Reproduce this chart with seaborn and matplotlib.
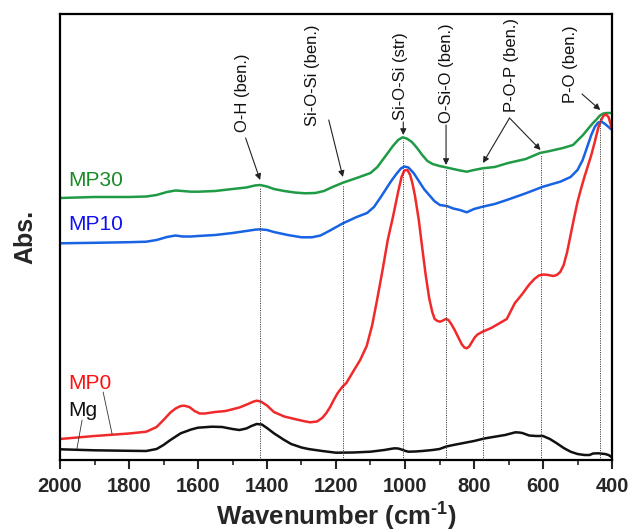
import numpy as np
import pandas as pd
import matplotlib
matplotlib.use("Agg")
import matplotlib.pyplot as plt
from matplotlib.ticker import MultipleLocator
import seaborn as sns

# FTIR spectra (wavenumber in cm-1, absorbance in arbitrary offset units)
w_mp30 = [2000, 1900, 1800, 1750, 1720, 1690, 1665, 1645, 1620, 1600, 1550, 1500, 1460, 1435,
          1420, 1400, 1380, 1350, 1320, 1290, 1260, 1235, 1210, 1180, 1140, 1100, 1080, 1065,
          1050, 1035, 1020, 1007, 995, 980, 965, 950, 935, 920, 900, 882, 860, 840, 821, 800,
          775, 740, 701, 650, 609, 580, 542, 513, 484, 465, 455, 445, 435, 425, 415, 400]
a_mp30 = [262, 263, 263, 263.5, 265, 268, 269.5, 269, 268.3, 268.3, 269, 271, 272.5, 274.5,
          275, 273.5, 271, 269, 267.5, 266.7, 267, 269, 273, 277.3, 282, 287, 293, 300,
          307, 314, 320, 322.7, 321.5, 318, 312, 305, 299, 296, 294, 292.7, 291, 289.5, 288.3, 290,
          291.7, 293, 297, 301, 307, 309, 312, 315, 325, 333, 337, 340.5, 344.5, 346.5, 347, 347]

w_mp10 = [2000, 1900, 1800, 1750, 1720, 1690, 1665, 1645, 1620, 1600, 1550, 1500, 1460, 1435,
          1420, 1400, 1380, 1340, 1300, 1270, 1245, 1220, 1180, 1140, 1110, 1090, 1072, 1055,
          1040, 1025, 1012, 1002, 990, 975, 960, 945, 930, 915, 899, 879, 860, 841, 821, 800,
          775, 740, 705, 650, 600, 550, 520, 500, 485, 470, 460, 450, 440, 430, 420, 410, 400]
a_mp10 = [216.7, 217.2, 217.8, 218.3, 220, 223, 224.5, 223.5, 223.5, 224, 225, 227, 229, 230.3,
          230.7, 230, 228, 225, 222.7, 222.7, 224.5, 229, 236.7, 243, 247, 253, 262, 271,
          279, 286, 291.5, 293.5, 292.5, 287, 279, 271, 265, 259, 255, 254, 251.5, 250, 247.7, 251,
          253.3, 256, 260, 266.7, 273.3, 278.3, 283, 290, 300, 315, 325, 333, 337.5, 338.3,
          336, 333, 330]

w_mp0 = [2000, 1900, 1800, 1750, 1720, 1700, 1680, 1665, 1650, 1640, 1625, 1610, 1595, 1580,
         1550, 1520, 1480, 1455, 1440, 1430, 1418, 1400, 1380, 1350, 1320, 1295, 1275, 1255,
         1240, 1228, 1217, 1205, 1195, 1182, 1170, 1151, 1130, 1111, 1095, 1081, 1065, 1050,
         1035, 1020, 1010, 1002, 993, 985, 978, 971, 960, 950, 940, 930, 921, 914, 906, 898,
         890, 882, 874, 866, 856, 846, 836, 828, 821, 814, 806, 798, 790, 775, 750, 720, 705,
         682, 660, 641, 625, 612, 598, 585, 570, 560, 550, 540, 530, 520, 510, 500, 490, 480,
         470, 460, 450, 440, 430, 424, 417, 410, 405, 400]
a_mp0 = [21, 24, 26.5, 28.3, 33, 40, 47.5, 51.5, 54, 54.3, 53, 49, 46.5, 46.5,
         48, 49, 52.5, 56, 58.3, 59.3, 58.5, 54.5, 48, 43.5, 41, 39, 37.7, 38.5,
         42, 47, 53, 61, 67, 73, 77, 88, 100, 114, 135, 160, 190, 220,
         243, 268, 283, 289.5, 290, 285, 276, 264, 240, 212, 185, 162, 148, 141, 139, 138.3,
         139.5, 141, 140, 136, 130, 123, 116, 112.5, 111.7, 113.5, 118, 122.5, 125.5, 128.3, 132, 138, 141,
         156.7, 166, 175, 181, 184.5, 185.5, 185, 184, 185, 188, 195, 208, 225, 242, 258, 271, 283,
         294, 305, 318, 332, 341, 344.5, 345.5, 343, 337, 331]

w_mg = [2000, 1900, 1800, 1750, 1720, 1700, 1680, 1650, 1620, 1600, 1560, 1530, 1500, 1480,
        1460, 1445, 1430, 1415, 1400, 1380, 1350, 1330, 1300, 1280, 1240, 1200, 1150, 1100,
        1060, 1040, 1030, 1020, 1010, 1000, 990, 970, 950, 920, 900, 880, 860, 830, 800, 770,
        750, 710, 690, 680, 670, 660, 640, 620, 600, 580, 560, 540, 520, 500, 480, 465, 455,
        440, 420, 410, 400]
a_mg = [10.7, 9.7, 9.2, 9, 11, 15, 20, 26.7, 30.5, 32.3, 33.3, 33, 31, 30,
        31.5, 34, 36, 35.5, 32, 26.7, 20, 16, 12.5, 11, 9, 7.3, 7.5, 8.3,
        10, 11.2, 11.7, 11.5, 10.5, 9.2, 8.3, 8.5, 9, 10, 11, 13.5, 15, 17, 19, 21.5,
        22.7, 25, 26.8, 27.7, 27.5, 27, 24.5, 24, 24, 21, 16.7, 12, 8.3, 6, 5, 5, 6.5,
        6.7, 6, 5, 2.7]

# band assignments
band_pos = [1420, 1180, 1005, 881, 774, 607, 434]
band_labels = ["O-H (ben.)", "Si-O-Si (ben.)", "Si-O-Si (str)", "O-Si-O (ben.)",
               "P-O-P (ben.)", "P-O (ben.)"]
label_x = [1472, 1267, 1012, 881, 690, 519]
label_y = [328, 334, 340, 337, 348, 357]
arrow_from = [(1462, 322), (1221, 340), (1005, 338), (881, 335), (697, 342), (697, 342), (487, 366)]
arrow_to = [(1420, 280), (1180, 283), (1005, 325), (881, 295), (774, 297), (607, 310), (434, 350)]

series = [("MP30", w_mp30, a_mp30, "#1f9a45", "#188a26", 279),
          ("MP10", w_mp10, a_mp10, "#1763e3", "#1010f0", 236),
          ("MP0", w_mp0, a_mp0, "#f02a2a", "#ff1010", 76.5),
          ("Mg", w_mg, a_mg, "#111111", "#111111", 50)]

sns.set_theme(style="white")
plt.rcParams["font.family"] = ["Liberation Sans", "DejaVu Sans"]
plt.rcParams["mathtext.fontset"] = "custom"
plt.rcParams["mathtext.rm"] = "Liberation Sans"
plt.rcParams["mathtext.bf"] = "Liberation Sans:bold"

fig = plt.figure(figsize=(6.32, 5.32), dpi=100)
ax = fig.add_axes([60 / 632, 72 / 532, 552 / 632, 446 / 532])

for name, w, a, col, tcol, ty in series:
    df = pd.DataFrame({"w": w, "a": a})
    sns.lineplot(data=df, x="w", y="a", color=col, lw=1.8, ax=ax, sort=False,
                 solid_joinstyle="round")
    ax.text(1977, ty, name, color=tcol, fontsize=15, ha="left", va="center")

# leader lines for the two bottom labels
ax.plot([1875, 1849], [68, 26], color="#333333", lw=0.6)
ax.plot([1936, 1951], [40, 11], color="#333333", lw=0.6)

# dotted marker lines from the MP30 curve down to the axis
w30 = np.array(w_mp30[::-1])
a30 = np.array(a_mp30[::-1])
tops = np.interp(band_pos, w30, a30)
ax.vlines(band_pos, 0, tops - 2, colors="#444444", linestyles=(0, (1.2, 1.2)), lw=0.7)

for lab, x, y in zip(band_labels, label_x, label_y):
    ax.text(x, y, lab, rotation=90, ha="center", va="bottom", fontsize=12, color="#111111")
for s, t in zip(arrow_from, arrow_to):
    ax.annotate("", xy=t, xytext=s,
                arrowprops=dict(arrowstyle="-|>", color="#222222", lw=0.8,
                                mutation_scale=9, shrinkA=0, shrinkB=0))

ax.set_xlim(2000, 400)
ax.set_ylim(0, 446)
ax.xaxis.set_major_locator(MultipleLocator(200))
ax.xaxis.set_minor_locator(MultipleLocator(100))
ax.tick_params(axis="x", which="major", direction="out", length=6.5, width=1.5,
               bottom=True, labelsize=14.5, pad=6)
ax.tick_params(axis="x", which="minor", direction="out", length=3.6, width=1.2, bottom=True)
ax.set_yticks([])
for lbl in ax.get_xticklabels():
    lbl.set_fontweight("bold")
for sp in ax.spines.values():
    sp.set_linewidth(1.6)
    sp.set_color("black")

ax.set_xlabel("Wavenumber (cm$^{\\mathbf{\u2010 1}}$)", fontsize=18.5, fontweight="bold", labelpad=2)
ax.set_ylabel("Abs.", fontsize=18, fontweight="bold", labelpad=16)

fig.savefig("out.png", dpi=100)
